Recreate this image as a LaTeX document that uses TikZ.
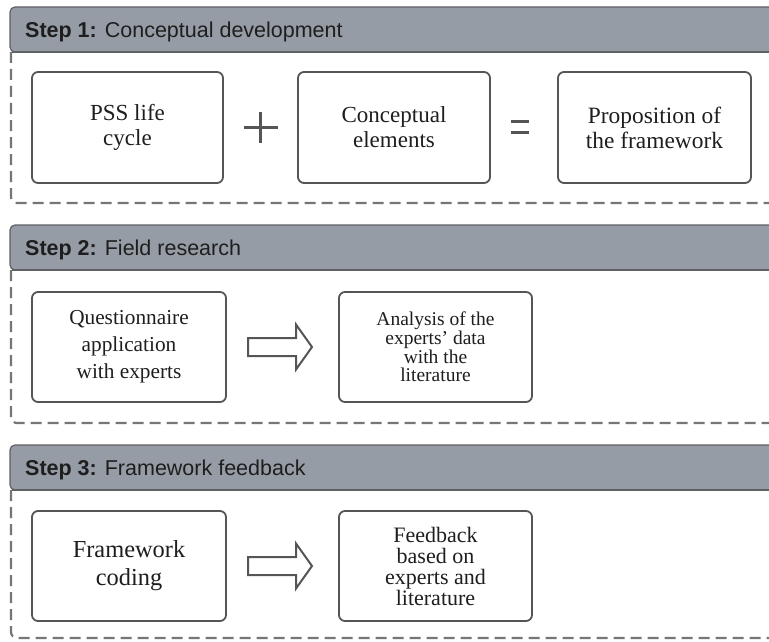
\documentclass[tikz,border=0pt]{standalone}
\usepackage{fontspec}
\setmainfont{Liberation Serif}
\newfontfamily\hdrfont{Liberation Sans}
\usetikzlibrary{calc}
\definecolor{hdrfill}{RGB}{149,156,166}
\definecolor{hdrline}{RGB}{95,97,101}
\definecolor{boxline}{RGB}{85,85,85}
\definecolor{dashcol}{RGB}{118,118,118}
\definecolor{txt}{RGB}{30,30,30}
\tikzset{
  hdr/.style={fill=hdrfill, draw=hdrline, line width=1.2pt, rounded corners=5pt},
  hdrbottom/.style={draw=hdrline, line width=2.6pt},
  hdrtext/.style={anchor=base west, inner sep=0pt, text=txt, font=\hdrfont\fontsize{21.5}{26}\selectfont},
  dashbox/.style={draw=dashcol, line width=2.2pt, dash pattern=on 11pt off 6pt, rounded corners=6pt},
  stagebox/.style={draw=boxline, line width=1.8pt, rounded corners=6pt, fill=white, align=center, text=txt, inner sep=0pt},
  blockarrow/.style={draw=boxline, line width=2pt, line join=miter, fill=white},
  opsign/.style={draw=boxline, line width=2.4pt}
}
\begin{document}
\begin{tikzpicture}[x=1pt,y=-1pt]
\useasboundingbox (0,0) rectangle (769,642);
\fill[white] (0,0) rectangle (769,642);

% ---------- Step 1 ----------
\draw[dashbox] (11,52) -- (11,203) -- (790,203);
\draw[hdr] (790,7) -- (10,7) -- (10,52) -- (790,52);
\draw[hdrbottom] (12,52) -- (790,52);
\node[hdrtext] (h1) at (25,38) {\textbf{Step 1:} Conceptual development};

\node[stagebox, minimum width=191pt, minimum height=111pt, font=\fontsize{23}{25}\selectfont] (pss) at (127.5,127.5) {PSS life\\cycle};
\node[stagebox, minimum width=192pt, minimum height=111pt, font=\fontsize{23}{25}\selectfont] (ce) at (394,127.5) {Conceptual\\elements};
\node[stagebox, minimum width=193pt, minimum height=111pt, font=\fontsize{23.4}{25}\selectfont] (pf) at (654.5,127.5) {Proposition of\\the framework};

\coordinate (plus) at ($(pss.east)!0.5!(ce.west)$);
\draw[opsign] ($(plus)+(-17,0)$) -- ($(plus)+(17,0)$);
\draw[opsign] ($(plus)+(0,-15.5)$) -- ($(plus)+(0,15.5)$);
\coordinate (eq) at ($(ce.east)!0.5!(pf.west)+(-4,0)$);
\draw[opsign] ($(eq)+(-9,-6)$) -- ($(eq)+(9,-6)$);
\draw[opsign] ($(eq)+(-9,5)$) -- ($(eq)+(9,5)$);

% ---------- Step 2 ----------
\draw[dashbox] (11,270) -- (11,423) -- (790,423);
\draw[hdr] (790,225) -- (10,225) -- (10,270) -- (790,270);
\draw[hdrbottom] (12,270) -- (790,270);
\node[hdrtext] (h2) at (25,255) {\textbf{Step 2:} Field research};

\node[stagebox, minimum width=194pt, minimum height=110pt, font=\fontsize{21.3}{27}\selectfont] (qa) at (129,347) {Questionnaire\\application\\with experts};
\node[stagebox, minimum width=193pt, minimum height=110pt, font=\fontsize{19.5}{18.6}\selectfont] (an) at (435.5,347) {Analysis of the\\experts' data\\with the\\literature};

\coordinate (a2) at ($(qa.east)!0.5!(an.west)+(-2.5,0)$);
\draw[blockarrow] ($(a2)+(-32,-9)$) -- ++(48,0) -- ++(0,-13.5) -- ++(16,22.5) -- ++(-16,22.5) -- ++(0,-13.5) -- ++(-48,0) -- cycle;

% ---------- Step 3 ----------
\draw[dashbox] (11,490) -- (11,638) -- (790,638);
\draw[hdr] (790,445) -- (10,445) -- (10,490) -- (790,490);
\draw[hdrbottom] (12,490) -- (790,490);
\node[hdrtext] (h3) at (25,475) {\textbf{Step 3:} Framework feedback};

\node[stagebox, minimum width=194pt, minimum height=110pt, font=\fontsize{24.4}{27.7}\selectfont] (fc) at (129,566) {Framework\\coding};
\node[stagebox, minimum width=193pt, minimum height=110pt, font=\fontsize{22}{21}\selectfont] (fb) at (435.5,566) {Feedback\\based on\\experts and\\literature};

\coordinate (a3) at ($(fc.east)!0.5!(fb.west)+(-2.5,0)$);
\draw[blockarrow] ($(a3)+(-32,-9)$) -- ++(48,0) -- ++(0,-13.5) -- ++(16,22.5) -- ++(-16,22.5) -- ++(0,-13.5) -- ++(-48,0) -- cycle;
\end{tikzpicture}
\end{document}
